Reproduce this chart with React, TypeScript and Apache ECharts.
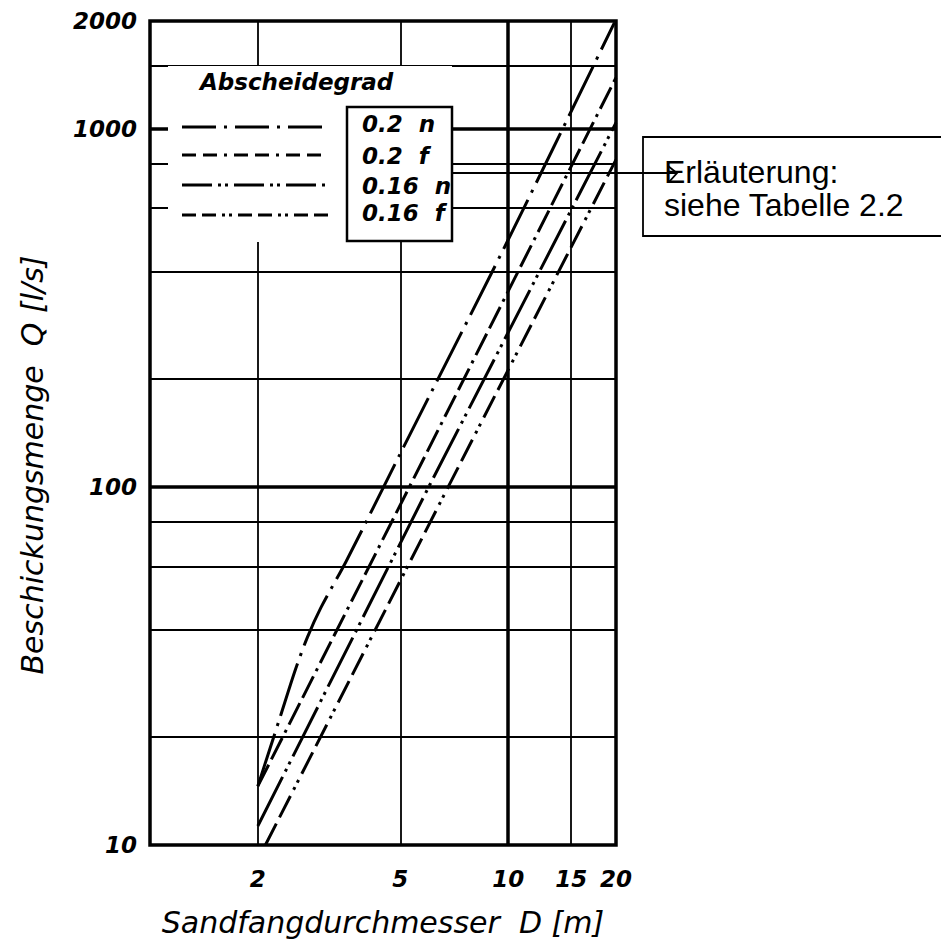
import React, { useEffect, useRef } from "react";
import * as echarts from "echarts";

// ---------------- data ----------------
const xTickLabels = [2, 5, 10, 15, 20];
const yTickLabels = [10, 100, 1000, 2000];
const xGridLines = [2, 5, 10, 15];
const yGridLines = [20, 40, 60, 80, 100, 200, 400, 600, 800, 1000, 1500];
const xThickLines = [10];
const yThickLines = [100, 1000];

const seriesNames = ["0.2 n", "0.2 f", "0.16 n", "0.16 f"];
const d02n = [2, 2.3, 2.55, 2.75, 3.0, 3.53, 5, 10, 19.8];
const q02n = [14.6, 22.5, 31, 38, 46, 62, 124, 490, 1980];
const d02f = [2, 5.3, 20];
const q02f = [14.6, 100, 1390];
const d016n = [2, 6.0, 20];
const q016n = [11.3, 100, 1040];
const d016f = [2.1, 6.8, 20];
const q016f = [10, 100, 820];

const legendTitle = "Abscheidegrad";
const xName = "Sandfangdurchmesser  D [m]";
const yName = "Beschickungsmenge  Q [l/s]";
const noteLines = ["Erläuterung:", "siehe Tabelle 2.2"];

// ---------------- styles ----------------
const FONT = "DejaVu Sans";
const chartDash = [
  [55, 8, 3, 8],
  [24, 6, 24, 6, 3, 6],
  [55, 6, 3, 5, 3, 6],
  [24, 7, 24, 7, 3, 5, 3, 7],
];
const legendDash = [
  [34, 8, 3, 8],
  [14, 7, 14, 7, 3, 7],
  [30, 6, 3, 4, 3, 6],
  [14, 6, 14, 6, 3, 4, 3, 6],
];
const legendRowsY = [127, 155, 185, 215];
const legendLabelY = [124, 156, 186, 213];

function pairs(xs: number[], ys: number[]) {
  return xs.map((x, i) => [x, ys[i]]);
}

export default function App() {
  const ref = useRef<HTMLDivElement>(null);
  useEffect(() => {
    if (!ref.current) return;
    const chart = echarts.init(ref.current, null, { renderer: "svg" });
    const seriesData = [
      pairs(d02n, q02n),
      pairs(d02f, q02f),
      pairs(d016n, q016n),
      pairs(d016f, q016f),
    ];
    const tickLabelStyle = {
      color: "#000",
      fontFamily: FONT,
      fontSize: 23,
      fontStyle: "italic",
      fontWeight: "bold",
      formatter: (v: number) => String(Math.round(v)),
    };
    const markData: any[] = [
      ...xGridLines.map((v) => ({
        xAxis: v,
        lineStyle: { width: xThickLines.includes(v) ? 3.5 : 1.8 },
      })),
      ...yGridLines.map((v) => ({
        yAxis: v,
        lineStyle: { width: yThickLines.includes(v) ? 3.5 : 1.8 },
      })),
    ];
    const graphics: any[] = [
      {
        type: "rect",
        z: 100,
        shape: { x: 168, y: 66, width: 284, height: 176 },
        style: { fill: "#fff" },
      },
      {
        type: "rect",
        z: 101,
        shape: { x: 347, y: 107, width: 105, height: 134 },
        style: { fill: "#fff", stroke: "#000", lineWidth: 2.5 },
      },
      {
        type: "text",
        z: 102,
        style: {
          text: legendTitle,
          x: 200,
          y: 82,
          textVerticalAlign: "middle",
          font: `italic bold 23px "${FONT}"`,
          fill: "#000",
        },
      },
      ...seriesNames.map((n, i) => ({
        type: "line",
        z: 102,
        shape: { x1: 182, y1: legendRowsY[i], x2: 328, y2: legendRowsY[i] },
        style: { stroke: "#000", lineWidth: 3, lineDash: legendDash[i] },
      })),
      ...seriesNames.map((n, i) => ({
        type: "text",
        z: 102,
        style: {
          text: n.replace(" ", "  "),
          x: 362,
          y: legendLabelY[i],
          textVerticalAlign: "middle",
          font: `italic bold 23px "${FONT}"`,
          fill: "#000",
        },
      })),
      {
        type: "text",
        z: 102,
        x: 32,
        y: 465,
        rotation: Math.PI / 2,
        style: {
          text: yName,
          textAlign: "center",
          textVerticalAlign: "middle",
          font: `italic 30px "${FONT}"`,
          fill: "#000",
        },
      },
      {
        type: "line",
        z: 102,
        shape: { x1: 452, y1: 173, x2: 677, y2: 173 },
        style: { stroke: "#000", lineWidth: 1.8 },
      },
      {
        type: "polyline",
        z: 102,
        shape: { points: [[668, 166], [677, 173], [669, 182]] },
        style: { stroke: "#000", lineWidth: 1.8, fill: null },
      },
      {
        type: "rect",
        z: 102,
        shape: { x: 643, y: 137, width: 310, height: 99 },
        style: { fill: null, stroke: "#000", lineWidth: 1.8 },
      },
      ...noteLines.map((t, i) => ({
        type: "text",
        z: 103,
        style: {
          text: t,
          x: 664,
          y: 172 + i * 33,
          textVerticalAlign: "middle",
          font: `32px "Liberation Sans"`,
          fill: "#000",
        },
      })),
    ];
    chart.setOption({
      animation: false,
      backgroundColor: "#fff",
      grid: {
        left: 150,
        top: 21,
        width: 466,
        height: 826,
        show: true,
        borderColor: "#000",
        borderWidth: 3.5,
        backgroundColor: "transparent",
      },
      xAxis: {
        type: "log",
        logBase: 10,
        min: 1,
        max: 20,
        axisLine: { show: false },
        axisTick: { show: false },
        splitLine: { show: false },
        minorTick: { show: false },
        axisLabel: {
          ...tickLabelStyle,
          customValues: xTickLabels,
          margin: 22,
          showMinLabel: true,
          showMaxLabel: true,
        },
        name: xName,
        nameLocation: "middle",
        nameGap: 62,
        nameTextStyle: {
          color: "#000",
          fontFamily: FONT,
          fontSize: 30,
          fontStyle: "italic",
        },
      },
      yAxis: {
        type: "log",
        logBase: 10,
        min: 10,
        max: 2000,
        axisLine: { show: false },
        axisTick: { show: false },
        splitLine: { show: false },
        minorTick: { show: false },
        axisLabel: {
          ...tickLabelStyle,
          customValues: yTickLabels,
          margin: 13,
          showMinLabel: true,
          showMaxLabel: true,
        },
      },
      series: [
        {
          type: "line",
          name: "grid",
          data: [],
          silent: true,
          symbol: "none",
          markLine: {
            silent: true,
            symbol: ["none", "none"],
            label: { show: false },
            lineStyle: { color: "#000", type: "solid", width: 1.8 },
            emphasis: { disabled: true },
            data: markData,
          },
        },
        ...seriesNames.map((n, i) => ({
          type: "line",
          name: n,
          data: seriesData[i],
          symbol: "none",
          silent: true,
          smooth: i === 0 ? 0.3 : false,
          lineStyle: { color: "#000", width: 3, type: chartDash[i], cap: "butt" },
          z: 5,
        })),
      ],
      graphic: graphics,
    });
    return () => chart.dispose();
  }, []);
  return (
    <div
      ref={ref}
      style={{ position: "fixed", left: 0, top: 0, width: 941, height: 942, background: "#fff" }}
    />
  );
}
